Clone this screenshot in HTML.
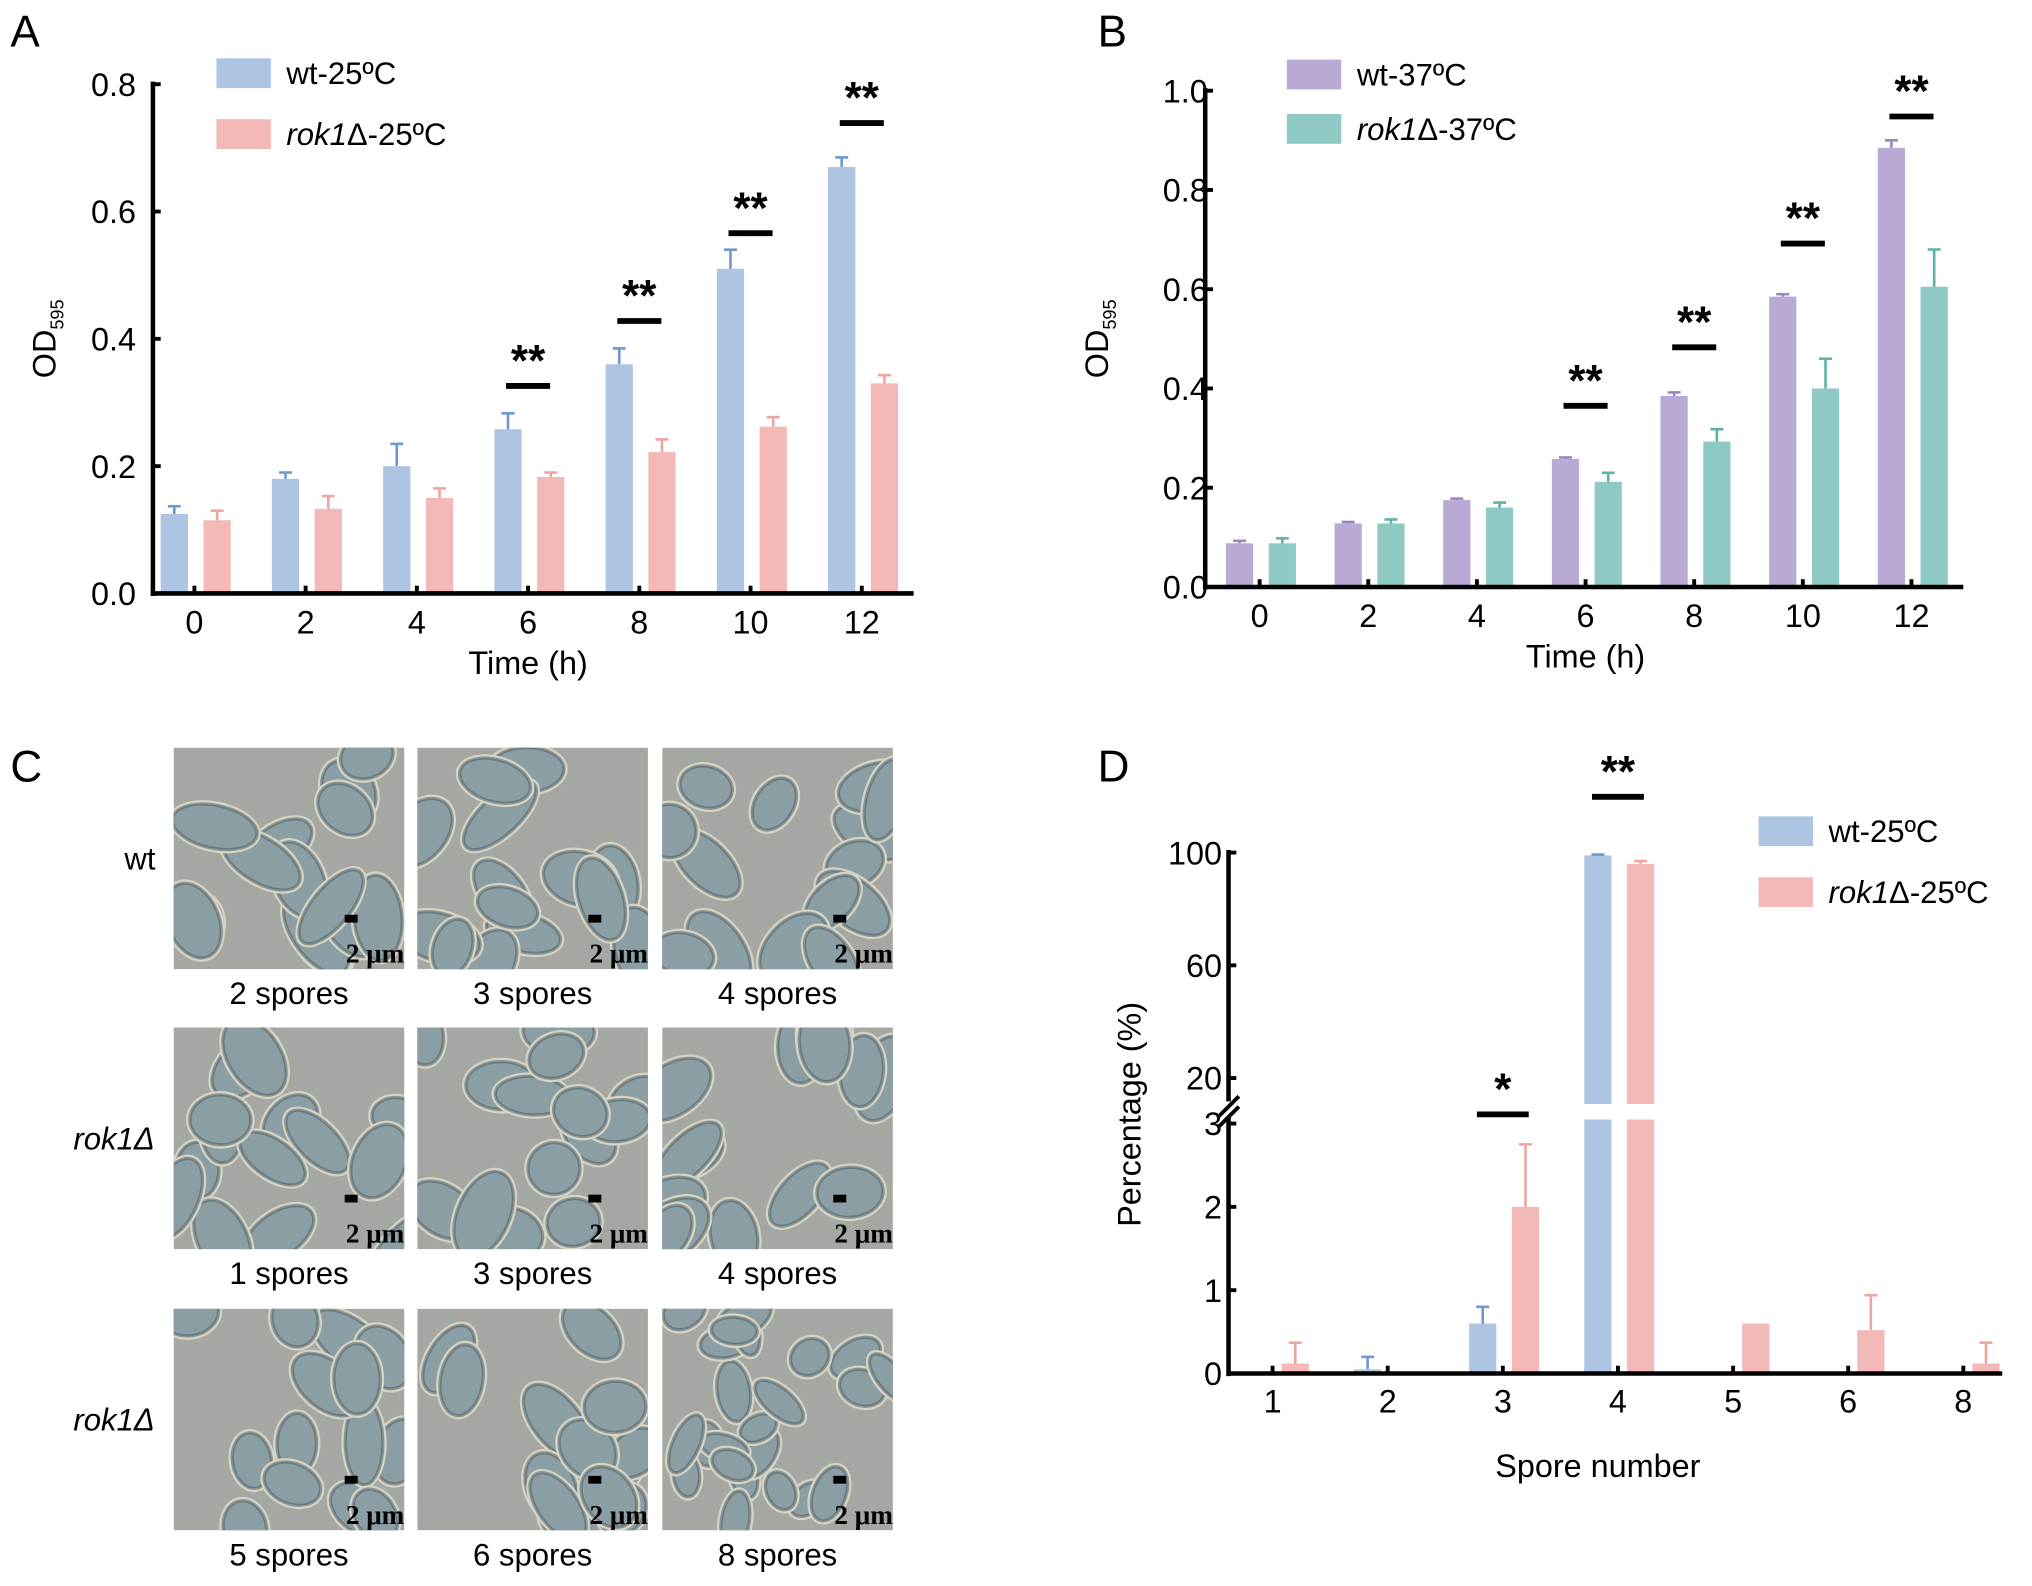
<!DOCTYPE html>
<html><head><meta charset="utf-8">
<style>
html,body{margin:0;padding:0;background:#fff;}
svg{display:block;font-family:"Liberation Sans",sans-serif;}
</style></head>
<body>
<svg id="fig" width="2032" height="1586" viewBox="0 0 1568 1224" preserveAspectRatio="none" xmlns="http://www.w3.org/2000/svg">
<rect width="1568" height="1224" fill="#fff"/>
<g id="photos"></g>
<g id="charts"></g>
</svg>
<script>
// ---------- Panel A data ----------
const timeLabels = ["0","2","4","6","8","10","12"];
const wt25 = [0.125,0.18,0.2,0.258,0.36,0.51,0.67];
const wt25Err = [0.012,0.01,0.035,0.025,0.025,0.03,0.015];
const rok25 = [0.115,0.133,0.15,0.183,0.222,0.262,0.33];
const rok25Err = [0.015,0.02,0.015,0.007,0.02,0.015,0.013];
const ticksA = [0,0.2,0.4,0.6,0.8];
const tickLabelsA = ["0.0","0.2","0.4","0.6","0.8"];
const sigA = [3,4,5,6];
const sigAVal = [0.326,0.428,0.566,0.739];
// ---------- Panel B data ----------
const wt37 = [0.088,0.128,0.175,0.258,0.385,0.585,0.885];
const wt37Err = [0.005,0.003,0.003,0.003,0.007,0.005,0.015];
const rok37 = [0.088,0.128,0.16,0.212,0.293,0.4,0.605];
const rok37Err = [0.01,0.008,0.01,0.018,0.025,0.06,0.075];
const ticksB = [0,0.2,0.4,0.6,0.8,1.0];
const tickLabelsB = ["0.0","0.2","0.4","0.6","0.8","1.0"];
const sigB = [3,4,5,6];
const sigBVal = [0.365,0.483,0.692,0.948];
// ---------- Panel D data ----------
const sporeLabels = ["1","2","3","4","5","6","8"];
const wtSpore = [0,0.05,0.6,99,0,0,0];
const wtSporeErr = [0,0.15,0.2,0.3,0,0,0];
const rokSpore = [0.12,0,2.0,96,0.6,0.52,0.12];
const rokSporeErr = [0.25,0,0.75,1.0,0,0.42,0.25];
const ticksDLow = [0,1,2,3];
const ticksDHigh = [20,60,100];

const NS="http://www.w3.org/2000/svg";
const root=document.getElementById('charts');
function mk(tag,attrs,parent){const e=document.createElementNS(NS,tag);for(const k in attrs)e.setAttribute(k,attrs[k]);(parent||root).appendChild(e);return e;}
function txt(s,attrs,parent){const e=mk('text',attrs,parent);e.textContent=s;return e;}

const C={blue:"#aec4e3",blueE:"#6f97cf",pink:"#f3b9b6",pinkE:"#eea5a2",purple:"#b9a9d5",purpleE:"#9a86c0",teal:"#8ecac3",tealE:"#5fb0a7"};

function drawBar(g,x,yTop,yBase,w,fill,name){
  const r=mk('rect',{x:x,y:yTop,width:w,height:Math.max(0,yBase-yTop),fill:fill},g);
  
  
}
function drawErr(g,xc,yTop,yErr,col){
  if(yTop-yErr<0.5)return;
  const l=mk('line',{x1:xc,x2:xc,y1:yTop,y2:yErr,stroke:col,'stroke-width':2},g);
  
  
  mk('line',{x1:xc-5,x2:xc+5,y1:yErr,y2:yErr,stroke:col,'stroke-width':2},g);
}
function legend(g,x,y,col,label,italic){
  const s=mk('rect',{x:x,y:y,width:42,height:23,fill:col},g);
  
  
  const t=mk('text',{x:x+54,y:y+20,'font-size':24},g);
  
  
  if(italic){const a=mk('tspan',{'font-style':'italic'},t);a.textContent='rok1';const b=mk('tspan',{},t);b.textContent='Δ'+label;}
  else t.textContent=label;
}
function sig(g,xc,y,stars,half){
  const l=mk('line',{x1:xc-half,x2:xc+half,y1:y,y2:y,stroke:'#000','stroke-width':4.5},g);
  
  
  const t=txt(stars,{x:xc,y:y-8,'font-size':34,'font-weight':'bold','text-anchor':'middle'},g);
  
  
}

function growth(opt){
  const g=mk('g',{});
  
  
  const xS=i=>opt.x0+i*(opt.x1-opt.x0)/(timeLabels.length-1);
  const yS=v=>opt.yb-(v/opt.vmax)*(opt.yb-opt.yt);
  txt(opt.letter,{x:opt.lx,y:opt.ly,'font-size':34},g);
  for(let i=0;i<timeLabels.length;i++){
    const xc=xS(i);
    drawBar(g,xc-26,yS(opt.s1[i]),opt.yb,21,opt.c1,'bar-'+opt.n1+'-'+timeLabels[i]);
    drawErr(g,xc-15.5,yS(opt.s1[i]),yS(opt.s1[i]+opt.e1[i]),opt.c1e);
    drawBar(g,xc+7,yS(opt.s2[i]),opt.yb,21,opt.c2,'bar-'+opt.n2+'-'+timeLabels[i]);
    drawErr(g,xc+17.5,yS(opt.s2[i]),yS(opt.s2[i]+opt.e2[i]),opt.c2e);
  }
  const ya=mk('line',{x1:opt.ax,x2:opt.ax,y1:opt.yt-2,y2:opt.yb+2,stroke:'#000','stroke-width':3.5},g);
  
  const xa=mk('line',{x1:opt.ax-1.5,x2:opt.x1+40,y1:opt.yb,y2:opt.yb,stroke:'#000','stroke-width':3.5},g);
  
  opt.ticks.forEach((v,i)=>{
    mk('line',{x1:opt.ax,x2:opt.ax+6,y1:yS(v),y2:yS(v),stroke:'#000','stroke-width':3},g);
    const t=txt(opt.tl[i],{x:opt.ax-opt.tlOff,y:yS(v)+9,'font-size':25,'text-anchor':'end'},g);
    
  });
  timeLabels.forEach((s,i)=>{
    mk('line',{x1:xS(i),x2:xS(i),y1:opt.yb,y2:opt.yb-6,stroke:'#000','stroke-width':3},g);
    const t=txt(s,{x:xS(i),y:opt.yb+31,'font-size':25,'text-anchor':'middle'},g);
    
  });
  opt.sigI.forEach((i,k)=>sig(g,xS(i),yS(opt.sigV[k]),'**',17));
  const xt=txt('Time (h)',{x:(opt.x0+opt.x1)/2,y:opt.yb+62,'font-size':25,'text-anchor':'middle'},g);
  
  const yt=mk('text',{transform:`translate(${opt.ax-75},${(opt.yt+opt.yb)/2}) rotate(-90)`,'font-size':25,'text-anchor':'middle'},g);
  
  const a=mk('tspan',{},yt);a.textContent='OD';
  const b=mk('tspan',{'font-size':14,dy:6},yt);b.textContent='595';
  legend(g,opt.legx,opt.legy,opt.c1,opt.l1,false);
  legend(g,opt.legx,opt.legy+opt.legdy,opt.c2,opt.l2,true);
}

growth({name:'panel-a-chart',letter:'A',lx:8,ly:36,x0:150,x1:665,ax:118,yt:65,yb:458,vmax:0.8,tlOff:13,
  s1:wt25,e1:wt25Err,s2:rok25,e2:rok25Err,c1:C.blue,c1e:C.blueE,c2:C.pink,c2e:C.pinkE,n1:'wt',n2:'rok1',
  ticks:ticksA,tl:tickLabelsA,sigI:sigA,sigV:sigAVal,legx:167,legy:45,legdy:47,l1:'wt-25ºC',l2:'-25ºC'});
growth({name:'panel-b-chart',letter:'B',lx:847,ly:36,x0:972,x1:1475,ax:930,yt:70,yb:453,vmax:1.0,tlOff:-2,
  s1:wt37,e1:wt37Err,s2:rok37,e2:rok37Err,c1:C.purple,c1e:C.purpleE,c2:C.teal,c2e:C.tealE,n1:'wt37',n2:'rok1-37',
  ticks:ticksB,tl:tickLabelsB,sigI:sigB,sigV:sigBVal,legx:993,legy:46,legdy:42,l1:'wt-37ºC',l2:'-37ºC'});

(function(){
  const g=mk('g',{});
  
  
  const ax=948, yb=1060, x0=982, x1=1515;
  const xS=i=>x0+i*(x1-x0)/(sporeLabels.length-1);
  const yLow=v=>yb-v*64.3;
  const yHigh=v=>832-(v-20)*2.175;
  txt('D',{x:847,y:603,'font-size':34},g);
  function bar(i,off,v,e,col,colE,name){
    const xc=xS(i)+off;
    if(v<=3.2){
      drawBar(g,xc-10.5,yLow(v),yb,21,col,name);
      drawErr(g,xc,yLow(v),yLow(v+e),colE);
    }else{
      drawBar(g,xc-10.5,yHigh(v),852,21,col,name+'-upper');
      drawBar(g,xc-10.5,864,yb,21,col,name+'-lower');
      drawErr(g,xc,yHigh(v),yHigh(v+e),colE);
    }
  }
  for(let i=0;i<sporeLabels.length;i++){
    bar(i,-15.5,wtSpore[i],wtSporeErr[i],C.blue,C.blueE,'bar-wt-'+sporeLabels[i]);
    bar(i,17.5,rokSpore[i],rokSporeErr[i],C.pink,C.pinkE,'bar-rok1-'+sporeLabels[i]);
  }
  const ya1=mk('line',{x1:ax,x2:ax,y1:656,y2:850,stroke:'#000','stroke-width':3.5},g);
  
  const ya2=mk('line',{x1:ax,x2:ax,y1:862,y2:yb+2,stroke:'#000','stroke-width':3.5},g);
  
  mk('line',{x1:ax-8,x2:ax+8,y1:862,y2:846,stroke:'#000','stroke-width':3},g);
  mk('line',{x1:ax-8,x2:ax+8,y1:870,y2:854,stroke:'#000','stroke-width':3},g);
  const xa=mk('line',{x1:ax-1.5,x2:1545,y1:yb,y2:yb,stroke:'#000','stroke-width':3.5},g);
  
  ticksDLow.forEach(v=>{
    mk('line',{x1:ax,x2:ax+6,y1:yLow(v),y2:yLow(v),stroke:'#000','stroke-width':3},g);
    txt(String(v),{x:ax-5,y:yLow(v)+9,'font-size':25,'text-anchor':'end'},g);
  });
  ticksDHigh.forEach(v=>{
    mk('line',{x1:ax,x2:ax+6,y1:yHigh(v),y2:yHigh(v),stroke:'#000','stroke-width':3},g);
    txt(String(v),{x:ax-5,y:yHigh(v)+9,'font-size':25,'text-anchor':'end'},g);
  });
  sporeLabels.forEach((s,i)=>{
    mk('line',{x1:xS(i),x2:xS(i),y1:yb,y2:yb-6,stroke:'#000','stroke-width':3},g);
    txt(s,{x:xS(i),y:yb+30,'font-size':25,'text-anchor':'middle'},g);
  });
  sig(g,xS(2),yLow(3.11),'*',20);
  sig(g,xS(3),yHigh(119.8),'**',20);
  txt('Spore number',{x:1233,y:1140,'font-size':25,'text-anchor':'middle'},g);
  txt('Percentage (%)',{transform:'translate(880,860) rotate(-90)','font-size':25,'text-anchor':'middle'},g);
  legend(g,1357,630,C.blue,'wt-25ºC',false);
  legend(g,1357,677,C.pink,'-25ºC',true);
})();

(function(){
  const P=document.getElementById('photos');
  txt('C',{x:8,y:603,'font-size':34},P);
  const cols=[134,322,511], rows=[577,793,1010], W=178, H=171;
  const captions=[["2 spores","3 spores","4 spores"],["1 spores","3 spores","4 spores"],["5 spores","6 spores","8 spores"]];
  const rowLab=[["wt",false],["rok1Δ",true],["rok1Δ",true]];
  let seed=11;
  const rnd=()=>{seed=(seed*9301+49297)%233280;return seed/233280;};
  const defs=mk('defs',{},P);
  rows.forEach((ry,r)=>{
    const rl=txt(rowLab[r][0],{x:r===0?108:88,y:ry+94,'font-size':24,'text-anchor':'middle','font-style':rowLab[r][1]?'italic':'normal'},P);
    
    
    cols.forEach((cx,c)=>{
      const id='clip'+r+c;
      const cp=mk('clipPath',{id:id},defs);
      mk('rect',{x:cx,y:ry,width:W,height:H},cp);
      const g=mk('g',{'clip-path':`url(#${id})`},P);
      
      
      mk('rect',{x:cx,y:ry,width:W,height:H,fill:'#a4a7a2'},g);
      const n=(r===2&&c===2)?24:14;
      for(let k=0;k<n;k++){
        const ex=cx+rnd()*W, ey=ry+rnd()*H;
        const sc=(r===2&&c===2)?0.6:0.9;
        const rx=(22+rnd()*18)*sc, rry=(16+rnd()*7)*sc, ang=rnd()*180;
        mk('ellipse',{cx:ex,cy:ey,rx:rx+3,ry:rry+3,transform:`rotate(${ang} ${ex} ${ey})`,fill:'#d6d3c2'},g);
        mk('ellipse',{cx:ex,cy:ey,rx:rx,ry:rry,transform:`rotate(${ang} ${ex} ${ey})`,fill:'#8a9ea3',stroke:'#44596382','stroke-width':2.5},g);
      }
      const sb=mk('rect',{x:cx+W-46,y:ry+H-42,width:10,height:6,fill:'#000'},P);
      
      
      const st=txt('2 μm',{x:cx+W,y:ry+H-5,'font-size':21,'font-weight':'bold','text-anchor':'end','font-family':'"Liberation Serif",serif'},P);
      
      
      const cap=txt(captions[r][c],{x:cx+W/2,y:ry+H+27,'font-size':24,'text-anchor':'middle'},P);
      
      
    });
  });
})();
</script>
</body></html>
